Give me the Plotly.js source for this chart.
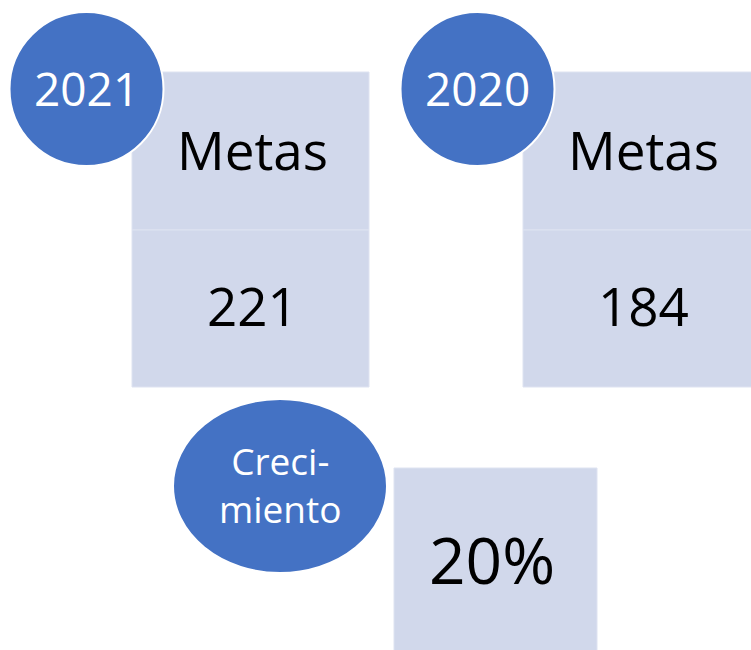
<!DOCTYPE html>
<html>
<head>
<meta charset="utf-8">
<script src="https://cdn.plot.ly/plotly-3.0.1.min.js"></script>
<style>html,body{margin:0;padding:0;background:#fff;}#chart{width:751px;height:650px;}</style>
</head>
<body>
<div id="chart"></div>
<script>
// ---- data ----
var years = ["2021", "2020"];
var metricLabel = "Metas";
var metas = [221, 184];
var growthLabel = "Creci-<br>miento";
var growthPct = 20;

// ---- layout geometry (pixel-like data coords) ----
var cardX = [[132, 369], [523, 760]];
var cardTop = 72, cardDiv = 230, cardBottom = 387;
var circleC = [[86.5, 89], [477.5, 89]];
var circleR = 77;
var growthEllipse = {cx: 280, cy: 486, rx: 107, ry: 87};
var growthBox = {x0: 394, x1: 597, y0: 468, y1: 662};

var blue = "#4472C4", light = "#D1D8EB", edge = "#DEE3F1";
var fontFam = "Open Sans, Noto Sans, sans-serif";

var shapes = [], annotations = [];
years.forEach(function (yr, i) {
  var x0 = cardX[i][0], x1 = cardX[i][1], xc = (x0 + x1) / 2 + 2;
  shapes.push({type: "rect", xref: "x", yref: "y", x0: x0, x1: x1, y0: cardTop, y1: cardDiv,
    fillcolor: light, line: {color: edge, width: 1}});
  shapes.push({type: "rect", xref: "x", yref: "y", x0: x0, x1: x1, y0: cardDiv, y1: cardBottom,
    fillcolor: light, line: {color: edge, width: 1}});
  var c = circleC[i];
  shapes.push({type: "circle", xref: "x", yref: "y", x0: c[0] - circleR, x1: c[0] + circleR,
    y0: c[1] - circleR, y1: c[1] + circleR, fillcolor: blue, line: {color: "#ffffff", width: 2}});
  annotations.push({x: c[0], y: c[1] - 1, xref: "x", yref: "y", text: yr, showarrow: false,
    xanchor: "center", yanchor: "middle", font: {family: fontFam, size: 46, color: "#ffffff"}});
  annotations.push({x: xc, y: (cardTop + cardDiv) / 2 - 2, xref: "x", yref: "y", text: metricLabel, showarrow: false,
    xanchor: "center", yanchor: "middle", font: {family: fontFam, size: 53, color: "#000000"}});
  annotations.push({x: xc, y: (cardDiv + cardBottom) / 2 - 3, xref: "x", yref: "y", text: String(metas[i]), showarrow: false,
    xanchor: "center", yanchor: "middle", font: {family: fontFam, size: 53, color: "#000000"}});
});

shapes.push({type: "rect", xref: "x", yref: "y", x0: growthBox.x0, x1: growthBox.x1, y0: growthBox.y0, y1: growthBox.y1,
  fillcolor: light, line: {color: edge, width: 1}});
shapes.push({type: "circle", xref: "x", yref: "y",
  x0: growthEllipse.cx - growthEllipse.rx, x1: growthEllipse.cx + growthEllipse.rx,
  y0: growthEllipse.cy - growthEllipse.ry, y1: growthEllipse.cy + growthEllipse.ry,
  fillcolor: blue, line: {color: "#ffffff", width: 2}});
annotations.push({x: growthEllipse.cx, y: growthEllipse.cy - 2, xref: "x", yref: "y", text: growthLabel, showarrow: false,
  xanchor: "center", yanchor: "middle", font: {family: fontFam, size: 37, color: "#ffffff"}});
annotations.push({x: 492, y: 559, xref: "x", yref: "y", text: growthPct + "%", showarrow: false,
  xanchor: "center", yanchor: "middle", font: {family: fontFam, size: 64, color: "#000000"}});

var layout = {
  width: 751, height: 650,
  margin: {l: 0, r: 0, t: 0, b: 0, pad: 0},
  paper_bgcolor: "#ffffff", plot_bgcolor: "#ffffff",
  showlegend: false,
  xaxis: {range: [0, 751], visible: false, fixedrange: true},
  yaxis: {range: [650, 0], visible: false, fixedrange: true},
  shapes: shapes,
  annotations: annotations
};
Plotly.newPlot("chart", [{x: [], y: [], type: "scatter", mode: "markers", hoverinfo: "skip"}], layout,
  {staticPlot: true, displayModeBar: false});
</script>
</body>
</html>
